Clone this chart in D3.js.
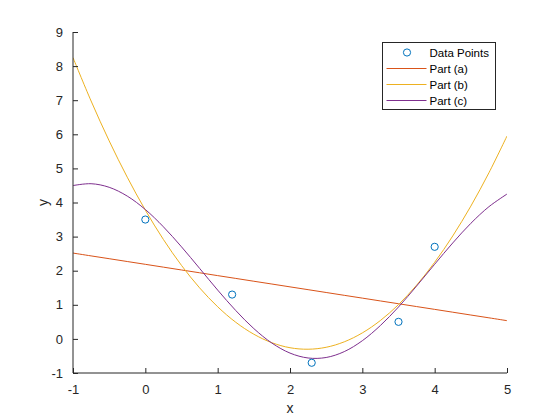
<!DOCTYPE html>
<html>
<head>
<meta charset="utf-8">
<script src="https://cdn.jsdelivr.net/npm/d3@7"></script>
<style>
  body { margin: 0; background: #fff; }
  svg { font-family: "Liberation Sans", Arial, sans-serif; }
</style>
</head>
<body>
<script>
// data points
const dataX = [0, 1.2, 2.3, 3.5, 4];
const dataY = [3.5, 1.3, -0.7, 0.5, 2.7];

const fitX = [-1, -0.75, -0.5, -0.25, 0, 0.25, 0.5, 0.75, 1, 1.25, 1.5, 1.75, 2,
  2.25, 2.5, 2.75, 3, 3.25, 3.5, 3.75, 4, 4.25, 4.5, 4.75, 5];
const partA = [2.517, 2.434, 2.352, 2.269, 2.187, 2.104, 2.021, 1.939, 1.856, 1.774,
  1.691, 1.609, 1.526, 1.444, 1.361, 1.278, 1.196, 1.113, 1.031, 0.948, 0.866,
  0.783, 0.700, 0.618, 0.535];
const partB = [8.248, 6.977, 5.808, 4.742, 3.777, 2.915, 2.155, 1.497, 0.942, 0.488,
  0.137, -0.112, -0.259, -0.303, -0.246, -0.086, 0.176, 0.540, 1.006, 1.575, 2.246,
  3.019, 3.894, 4.871, 5.950];
const partC = [4.497, 4.551, 4.446, 4.188, 3.794, 3.287, 2.700, 2.069, 1.432, 0.832,
  0.302, -0.123, -0.416, -0.560, -0.545, -0.373, -0.053, 0.393, 0.936, 1.550, 2.189,
  2.814, 3.389, 3.877, 4.248];

const xTicks = [-1, 0, 1, 2, 3, 4, 5];
const yTicks = [-1, 0, 1, 2, 3, 4, 5, 6, 7, 8, 9];
const legendLabels = ["Data Points", "Part (a)", "Part (b)", "Part (c)"];

const w = 560;
const h = 420;
const margin = { left: 73, right: 53, top: 32, bottom: 47 };
const axisColor = "#262626";
const colors = ["#0072BD", "#D95319", "#EDB120", "#7E2F8E"];

const svg = d3.select("body").append("svg").attr("width", w).attr("height", h);

const xScale = d3.scaleLinear().domain([-1, 5]).range([margin.left, w - margin.right]);
const yScale = d3.scaleLinear().domain([-1, 9]).range([h - margin.bottom, margin.top]);

// clip curves to plot area
svg.append("clipPath").attr("id", "plotclip")
  .append("rect")
  .attr("x", margin.left)
  .attr("y", margin.top)
  .attr("width", w - margin.left - margin.right)
  .attr("height", h - margin.top - margin.bottom);

const line = d3.line()
  .x((d) => xScale(d[0]))
  .y((d) => yScale(d[1]))
  .curve(d3.curveCatmullRom.alpha(0.5));

const series = [partA, partB, partC];
series.forEach((ys, i) => {
  svg.append("path")
    .datum(fitX.map((x, j) => [x, ys[j]]))
    .attr("clip-path", "url(#plotclip)")
    .attr("fill", "none")
    .attr("stroke", colors[i + 1])
    .attr("stroke-width", 1)
    .attr("d", line);
});

svg.selectAll("circle.pt")
  .data(dataX.map((x, i) => [x, dataY[i]]))
  .enter()
  .append("circle")
  .attr("class", "pt")
  .attr("cx", (d) => xScale(d[0]))
  .attr("cy", (d) => yScale(d[1]))
  .attr("r", 3.6)
  .attr("fill", "none")
  .attr("stroke", colors[0])
  .attr("stroke-width", 1);

// axes (ticks point inward), plain hyphen for negatives like matlab
const fmt = (d) => String(d);
const xAxis = d3.axisBottom(xScale).tickValues(xTicks).tickSize(-5).tickPadding(12)
  .tickFormat(fmt);
const yAxis = d3.axisLeft(yScale).tickValues(yTicks).tickSize(-5).tickPadding(10)
  .tickFormat(fmt);

const gx = svg.append("g")
  .attr("transform", "translate(0," + (h - margin.bottom) + ")")
  .call(xAxis);
const gy = svg.append("g")
  .attr("transform", "translate(" + margin.left + ",0)")
  .call(yAxis);

[gx, gy].forEach((g) => {
  g.select(".domain").attr("stroke", axisColor).attr("d",
    g === gx
      ? "M" + margin.left + ",0H" + (w - margin.right)
      : "M0," + (h - margin.bottom) + "V" + margin.top);
  g.selectAll(".tick line").attr("stroke", axisColor);
  g.selectAll(".tick text")
    .attr("fill", axisColor)
    .style("font-size", "13px")
    .style("font-family", "Liberation Sans, Arial, sans-serif");
});

svg.append("text")
  .attr("x", (margin.left + w - margin.right) / 2)
  .attr("y", 413)
  .attr("text-anchor", "middle")
  .attr("fill", axisColor)
  .style("font-size", "14px")
  .text("x");

svg.append("text")
  .attr("transform", "translate(48," + (margin.top + h - margin.bottom) / 2 + ") rotate(-90)")
  .attr("text-anchor", "middle")
  .attr("fill", axisColor)
  .style("font-size", "14px")
  .text("y");

// legend
const lg = svg.append("g").attr("transform", "translate(382.5,42.5)");
lg.append("rect")
  .attr("width", 113)
  .attr("height", 67)
  .attr("fill", "#fff")
  .attr("stroke", axisColor)
  .attr("stroke-width", 1);

legendLabels.forEach((label, i) => {
  const y = 10 + i * 16;
  if (i === 0) {
    lg.append("circle")
      .attr("cx", 24.5)
      .attr("cy", y)
      .attr("r", 3.6)
      .attr("fill", "none")
      .attr("stroke", colors[0]);
  } else {
    lg.append("line")
      .attr("x1", 4)
      .attr("x2", 44)
      .attr("y1", y)
      .attr("y2", y)
      .attr("stroke", colors[i]);
  }
  lg.append("text")
    .attr("x", 47)
    .attr("y", y + 4)
    .attr("fill", "#000")
    .style("font-size", "11.5px")
    .text(label);
});
</script>
</body>
</html>
